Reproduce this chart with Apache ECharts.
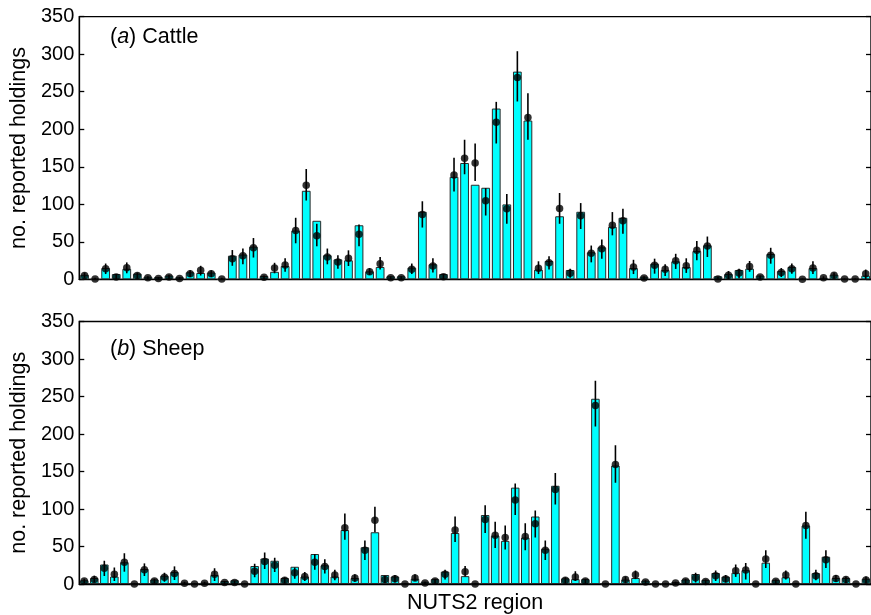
<!DOCTYPE html>
<html>
<head>
<meta charset="utf-8">
<script src="https://cdn.jsdelivr.net/npm/echarts@6/dist/echarts.min.js"></script>
<style>
html,body{margin:0;padding:0;background:#fff;}
#chart{width:871px;height:615px;}
</style>
</head>
<body>
<div id="chart"></div>
<script>
// ---- Panel (a) Cattle: 75 NUTS2 regions ----
const cattleObserved = [6,0,15,7,14,7.5,3.5,3,5,2.7,9.3,8.4,9,0,31.5,33,43.5,4.4,10,17.7,
  65,118,78,32,26.6,25.3,72,10.6,16.4,4,4,15.5,90,20,7,136.6,155,126,122,227.6,
  99.8,276.8,211.6,12.9,24.4,84,12.4,90,36,42.6,70,82,15,3.5,20.8,12.4,24,16.4,37.7,45.3,
  4,7,12.4,14.2,4.9,33.7,11,16.4,0,15,2,6.2,0,0,4.9];
const cattleModel = [5,0.5,14,3,15.5,5,2,1,3,1,7.5,12,7.5,0.5,27.5,31.5,42,2.7,15,19,
  65,125.5,58,29.7,23,28,60,10,20.8,2,2,13.3,86.5,17.7,3.5,139,161.5,155,104.7,209.4,
  94,269,215.6,14.6,22,94.5,8,84.7,34.6,40.8,72,78,16.5,1.8,18.6,13.3,24.8,18.2,38.6,44.4,
  0.5,5.3,8.4,16.9,3,32,8.9,14.2,0,15,2,5.3,0.5,0.5,7.5];
const cattleLow = [2,0,7,0,8,1,0,0,0,0,3,5,3,0,18,20,29,0,8,10,
  48,105,44,20,14,17.7,44,6,12.9,0,0,7,69,9,0,117,140,131,85,181,
  74,237,186,7,12.9,74,2,67,22.6,27.5,58.6,60.8,7,0,7.5,4.5,13.8,8.5,25.3,29.7,
  0,0.5,1.5,10,0,20.8,3,7.5,0,7,0,1,0,0,0.5];
const cattleHigh = [9,2,21,7,22.5,9,4,3,6,3,12,18,12,2,39,41,55,5,22,28,
  82,147,74,41,32,38.6,73,15,29.7,4,4,21,104,28,7,162,186,181,121.5,236.5,
  113.6,304,248,24,30.6,115,14,101.6,45,53,89.6,94,26,4,27.5,20,34,28,51,57,
  3,11,14,24.4,5,42,15,21,1,24,4,9,1,1,13];

// ---- Panel (b) Sheep: 79 NUTS2 regions ----
const sheepObserved = [5,8,26,10,29,0,20,6,11,16,2,0,2,12,4,5,0,24,34,31,
  8,23,10,40,25,10,72,8,49,69,12,10,0,7,3,6.5,16.5,68,10.5,0,
  92,64.5,57.5,128.5,62,90,47,131,7.5,6.5,6.5,247,0,158,6,8,4.5,0,0,2.7,
  6,13.3,5.5,14.7,9.8,15,18.5,0,28.4,5.5,9,0,78,14.5,36.4,8,8,0,7];
const sheepModel = [4,6,21,13,29,0,19,4,9,14,1,0,1,13,2,2,0,17,30,25,
  5,15,10,29,23.5,12,75,8,45,85,6,7,0,8,1.5,4,13,72,16.5,0,
  86,65,62,112,63.5,80.5,45,126,5,9.5,4,238,0,159.5,6,12.5,2.7,0,0,1.3,
  4,8.5,3.5,11,6.7,17.8,18.7,0,33.5,3.6,12,0,78,11,32.5,7.5,6,0,5.5];
const sheepLow = [1,2,10.7,4,16.4,0,10.7,1,3,5.3,0,0,0,4,0,0,0,9,20,16,
  1,7,4,19,14,5,59,3,32,69,1.5,2,0,4,0,0.5,6,56,10,0,
  68,48,46,92,45,62,32,106,1,4,0.5,210,0,135,1.5,6.5,0,0,0,0,
  0.5,2,0,4,2,9.5,6,0,21.3,0,6,0,60.4,5,21.3,3,1.5,0,1];
const sheepHigh = [7,11,31,22,41,1,27.5,7,15,23.5,3,1,3,21,4,4,1,27,42,35,
  9,22,16,40,33,19,94,13,58,103,11,12,1,13,3,7,19,90,24,1,
  105,83,78,134,81,98,58,148,9,17,7,271,1,185,10,18,5,1,1,3,
  7,15,6,18,12,26,28,1,45,6,18,1,96.4,19,45,12,10,1,10];

const yTicks = [0,50,100,150,200,250,300,350];
const cattleRegions = cattleObserved.map((_, i) => 'C' + (i + 1));
const sheepRegions = sheepObserved.map((_, i) => 'S' + (i + 1));

const FONT = 'Liberation Sans, Arial, sans-serif';

function errData(lo, hi) { return lo.map((l, i) => [i, l, hi[i]]); }
function errRender(params, api) {
  const x = api.value(0);
  const p1 = api.coord([x, api.value(1)]);
  const p2 = api.coord([x, api.value(2)]);
  return {
    type: 'line',
    shape: { x1: p1[0], y1: p1[1], x2: p2[0], y2: p2[1] },
    style: { stroke: '#000', lineWidth: 1.6 }
  };
}

function yAxisLeft(gi) {
  return {
    type: 'value', gridIndex: gi, min: yTicks[0], max: yTicks[yTicks.length - 1], interval: 50,
    name: 'no. reported holdings', nameLocation: 'middle', nameGap: 45,
    nameTextStyle: { fontFamily: FONT, fontSize: 21.5, color: '#000' },
    axisLine: { show: true, lineStyle: { color: '#000', width: 1.3 } },
    axisTick: { show: true, inside: true, length: 5, lineStyle: { color: '#000', width: 1.3 } },
    axisLabel: { fontFamily: FONT, fontSize: 20, color: '#000', margin: 5 },
    splitLine: { show: false }
  };
}
function yAxisRight(gi) {
  return {
    type: 'value', gridIndex: gi, position: 'right', min: 0, max: 350, interval: 50,
    axisLine: { show: true, lineStyle: { color: '#000', width: 1.3 } },
    axisTick: { show: true, inside: true, length: 5, lineStyle: { color: '#000', width: 1.3 } },
    axisLabel: { show: false }, splitLine: { show: false }
  };
}
function xAxisCat(gi, cats, withName) {
  const ax = {
    type: 'category', gridIndex: gi, data: cats, boundaryGap: true,
    axisLine: { show: true, lineStyle: { color: '#000', width: 1.3 } },
    axisTick: { show: false }, axisLabel: { show: false }, splitLine: { show: false }
  };
  if (withName) {
    ax.name = 'NUTS2 region';
    ax.nameLocation = 'middle';
    ax.nameGap = 8;
    ax.nameTextStyle = { fontFamily: FONT, fontSize: 21.5, color: '#000' };
  }
  return ax;
}

const chart = echarts.init(document.getElementById('chart'), null, { renderer: 'canvas' });
const panelTitle = (letter, name, top) => ({
  left: 105, top: top,
  text: '({i|' + letter + '}) ' + name,
  textStyle: {
    fontFamily: FONT, fontSize: 21.5, fontWeight: 'normal', color: '#000',
    rich: { i: { fontFamily: FONT, fontSize: 21.5, fontStyle: 'italic', color: '#000' } }
  }
});

chart.setOption({
  animation: false,
  backgroundColor: '#fff',
  title: [panelTitle('a', 'Cattle', 21), panelTitle('b', 'Sheep', 333)],
  grid: [
    { left: 77.5, top: 16.7, width: 796, height: 262.6, show: true, borderColor: '#000', borderWidth: 1.3, backgroundColor: 'transparent' },
    { left: 77.5, top: 321.5, width: 796, height: 263, show: true, borderColor: '#000', borderWidth: 1.3, backgroundColor: 'transparent' }
  ],
  xAxis: [xAxisCat(0, cattleRegions, false), xAxisCat(1, sheepRegions, true)],
  yAxis: [yAxisLeft(0), yAxisLeft(1), yAxisRight(0), yAxisRight(1)],
  series: [
    { type: 'bar', xAxisIndex: 0, yAxisIndex: 0, data: cattleObserved, barWidth: '83%',
      itemStyle: { color: '#00FFFF', borderColor: '#2a2a2a', borderWidth: 1 } },
    { type: 'custom', xAxisIndex: 0, yAxisIndex: 0, data: errData(cattleLow, cattleHigh),
      renderItem: errRender, encode: { x: 0, y: [1, 2] }, clip: false, z: 3 },
    { type: 'scatter', xAxisIndex: 0, yAxisIndex: 0, data: cattleModel, symbolSize: 7.5,
      itemStyle: { color: '#000' }, clip: false, z: 4 },
    { type: 'bar', xAxisIndex: 1, yAxisIndex: 1, data: sheepObserved, barWidth: '85%',
      itemStyle: { color: '#00FFFF', borderColor: '#2a2a2a', borderWidth: 1 } },
    { type: 'custom', xAxisIndex: 1, yAxisIndex: 1, data: errData(sheepLow, sheepHigh),
      renderItem: errRender, encode: { x: 0, y: [1, 2] }, clip: false, z: 3 },
    { type: 'scatter', xAxisIndex: 1, yAxisIndex: 1, data: sheepModel, symbolSize: 7.5,
      itemStyle: { color: '#000' }, clip: false, z: 4 }
  ]
});
</script>
</body>
</html>
